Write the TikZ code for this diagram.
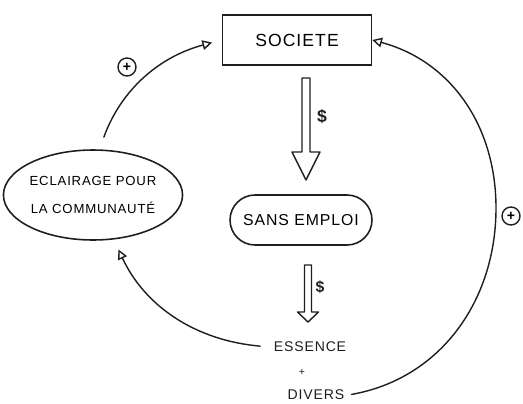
\documentclass[tikz,border=0pt]{standalone}
\usepackage{fontspec}
\usepackage{tikz}
\usetikzlibrary{calc,arrows.meta,shapes.geometric,shapes.misc}
\newfontfamily\hand[LetterSpace=6]{Liberation Sans}
\definecolor{ink}{HTML}{1E1E1E}
\tikzset{
  box/.style={draw=ink, line width=0.9pt, minimum width=2.98cm, minimum height=1cm, inner sep=0pt,
    font=\hand\fontsize{10}{12}\selectfont},
  blob/.style={draw=ink, ellipse, line width=0.9pt, minimum width=3.34cm, minimum height=1.8cm, inner sep=0pt,
    align=center, font=\hand\fontsize{7.5}{16}\selectfont},
  pill/.style={draw=ink, rounded rectangle, line width=0.9pt, minimum width=2.84cm, minimum height=1cm, inner sep=0pt,
    font=\hand\fontsize{9}{11}\selectfont},
  link/.style={draw=ink, line width=0.8pt, line cap=round, -{Triangle[open,length=5.5pt,width=5.5pt]}},
  hollow/.style={draw=ink, line width=0.8pt, line join=round, fill=white},
  sign/.style={circle, draw=ink, line width=0.8pt, inner sep=0pt, minimum size=0.36cm,
    font=\hand\fontsize{8}{9}\selectfont\bfseries},
  lab/.style={text=ink, inner sep=2pt, font=\hand\fontsize{8}{10}\selectfont},
  money/.style={text=ink, inner sep=1pt, font=\hand\fontsize{10}{12}\selectfont\bfseries},
}
% hollow block arrow: top, tip, shaft half width, head half width, head length
\newcommand\blockarrow[5]{%
  \draw[hollow] ($(#1)+(-#3,0)$) -- ($(#2)+(-#3,#5)$) -- ($(#2)+(-#4,#5)$) -- (#2)
    -- ($(#2)+(#4,#5)$) -- ($(#2)+(#3,#5)$) -- ($(#1)+(#3,0)$) -- cycle;}

\begin{document}
\begin{tikzpicture}[x=0.02cm, y=0.02cm]
  \useasboundingbox (0,0) rectangle (523,403);
  % boxes
  \node[box] (soc) at (297,363) {SOCIETE};
  \node[pill] (sans) at (301,183) {SANS EMPLOI};
  \node[blob] (ecl) at (93,208) {ECLAIRAGE POUR\\LA COMMUNAUTÉ};
  \node[lab] (ess) at (310,56) {ESSENCE};
  \node[lab, font=\hand\fontsize{6}{7}\selectfont] (pl) at (302,31) {+};
  \node[lab] (div) at (316,8) {DIVERS};
  % money flow
  \coordinate (t1) at (306,325);
  \coordinate (h1) at (306,223);
  \blockarrow{t1}{h1}{4}{14}{28}
  \node[money] (d1) at (322,286) {\$};
  \coordinate (t2) at (308,138);
  \coordinate (h2) at (308,81);
  \blockarrow{t2}{h2}{3.5}{10.5}{10}
  \node[money, font=\hand\fontsize{9}{10}\selectfont\bfseries] (d2) at (320,116) {\$};
  % loops
  \coordinate (rb) at (496,195);
  \draw[link, shorten <=0.26cm, shorten >=0.2cm] (ecl.82) to[out=70, in=195] (soc.west);
  \draw[link, shorten <=2pt] (div.east) to[out=10, in=-90] (rb) to[out=90, in=-15] (soc.east);
  \draw[link, shorten <=0.2cm, shorten >=0.22cm] (ess.west) to[out=175, in=-65] (ecl);
  \node[sign] (p1) at (127,336) {+};
  \node[sign] (p2) at (511,187) {+};
\end{tikzpicture}
\end{document}
